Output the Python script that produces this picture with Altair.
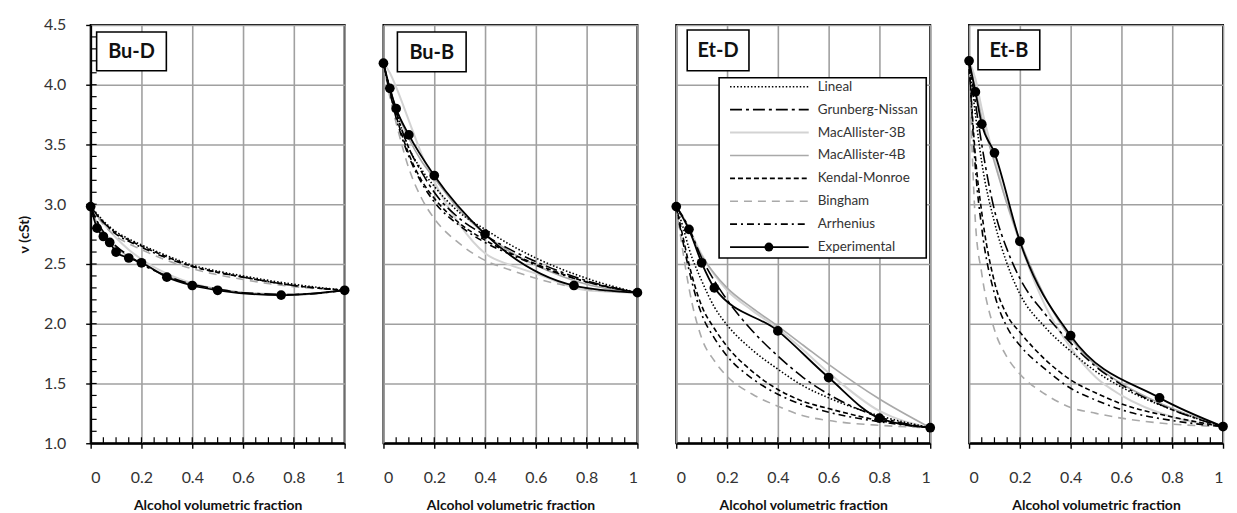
import altair as alt
import pandas as pd

FONT = "Lato"

# ---------------- data ----------------
model_x = [0, 0.025, 0.05, 0.1, 0.15, 0.2, 0.3, 0.4, 0.5, 0.6, 0.8, 1.0]

# Bu-D
bud_exp_x = [0, 0.025, 0.05, 0.075, 0.1, 0.15, 0.2, 0.3, 0.4, 0.5, 0.75, 1.0]
bud_exp_y = [2.98, 2.80, 2.73, 2.68, 2.60, 2.55, 2.51, 2.39, 2.32, 2.28, 2.24, 2.28]
bud_lineal = [2.98, 2.92, 2.86, 2.77, 2.71, 2.66, 2.57, 2.49, 2.44, 2.40, 2.33, 2.28]
bud_grunberg = [2.98, 2.86, 2.77, 2.65, 2.57, 2.50, 2.40, 2.33, 2.29, 2.26, 2.245, 2.28]
bud_mac3b = [2.98, 2.91, 2.84, 2.72, 2.62, 2.54, 2.42, 2.34, 2.29, 2.26, 2.245, 2.28]
bud_mac4b = [2.98, 2.84, 2.75, 2.64, 2.56, 2.51, 2.40, 2.33, 2.29, 2.26, 2.24, 2.28]
bud_kendal = [2.98, 2.91, 2.85, 2.76, 2.70, 2.65, 2.56, 2.48, 2.43, 2.39, 2.32, 2.28]
bud_bingham = [2.98, 2.90, 2.83, 2.73, 2.67, 2.62, 2.53, 2.46, 2.41, 2.37, 2.31, 2.28]
bud_arrhenius = [2.98, 2.91, 2.85, 2.75, 2.69, 2.64, 2.55, 2.48, 2.43, 2.39, 2.32, 2.28]

# Bu-B
bub_exp_x = [0, 0.025, 0.05, 0.1, 0.2, 0.4, 0.75, 1.0]
bub_exp_y = [4.18, 3.97, 3.80, 3.58, 3.24, 2.75, 2.32, 2.26]
bub_lineal = [4.18, 3.97, 3.78, 3.47, 3.29, 3.15, 2.93, 2.79, 2.66, 2.55, 2.38, 2.26]
bub_grunberg = [4.18, 3.96, 3.77, 3.47, 3.27, 3.10, 2.88, 2.74, 2.62, 2.52, 2.36, 2.26]
bub_mac3b = [4.18, 4.10, 3.98, 3.70, 3.42, 3.19, 2.83, 2.59, 2.49, 2.42, 2.28, 2.26]
bub_mac4b = [4.18, 3.97, 3.80, 3.55, 3.36, 3.22, 2.95, 2.75, 2.60, 2.49, 2.33, 2.26]
bub_kendal = [4.18, 3.95, 3.74, 3.42, 3.20, 3.05, 2.84, 2.70, 2.59, 2.50, 2.35, 2.26]
bub_bingham = [4.18, 3.90, 3.68, 3.30, 3.05, 2.88, 2.67, 2.53, 2.45, 2.38, 2.29, 2.26]
bub_arrhenius = [4.18, 3.94, 3.72, 3.40, 3.18, 3.02, 2.82, 2.68, 2.58, 2.49, 2.35, 2.26]

# Et-D
etd_exp_x = [0, 0.05, 0.1, 0.15, 0.4, 0.6, 0.8, 1.0]
etd_exp_y = [2.98, 2.79, 2.51, 2.30, 1.94, 1.55, 1.21, 1.13]
etd_lineal = [2.98, 2.82, 2.63, 2.36, 2.14, 1.99, 1.78, 1.62, 1.48, 1.38, 1.23, 1.13]
etd_grunberg = [2.98, 2.90, 2.80, 2.55, 2.36, 2.20, 1.94, 1.73, 1.55, 1.41, 1.22, 1.13]
etd_mac3b = [2.98, 2.90, 2.80, 2.58, 2.41, 2.28, 2.11, 1.96, 1.78, 1.59, 1.27, 1.13]
etd_mac4b = [2.98, 2.89, 2.78, 2.57, 2.42, 2.30, 2.13, 1.98, 1.82, 1.66, 1.37, 1.13]
etd_kendal = [2.98, 2.74, 2.50, 2.15, 1.96, 1.81, 1.60, 1.45, 1.35, 1.29, 1.19, 1.13]
etd_bingham = [2.98, 2.62, 2.30, 1.88, 1.69, 1.56, 1.41, 1.31, 1.23, 1.19, 1.15, 1.13]
etd_arrhenius = [2.98, 2.70, 2.45, 2.08, 1.88, 1.73, 1.54, 1.41, 1.32, 1.26, 1.18, 1.13]

# Et-B
etb_exp_x = [0, 0.025, 0.05, 0.1, 0.2, 0.4, 0.75, 1.0]
etb_exp_y = [4.20, 3.94, 3.67, 3.43, 2.69, 1.90, 1.38, 1.14]
etb_lineal = [4.20, 3.75, 3.35, 2.85, 2.50, 2.25, 1.97, 1.77, 1.60, 1.47, 1.28, 1.14]
etb_grunberg = [4.20, 3.85, 3.50, 2.95, 2.62, 2.38, 2.08, 1.84, 1.64, 1.49, 1.28, 1.14]
etb_mac3b = [4.20, 4.05, 3.80, 3.38, 3.00, 2.68, 2.15, 1.80, 1.55, 1.40, 1.22, 1.14]
etb_mac4b = [4.20, 3.97, 3.72, 3.35, 3.00, 2.70, 2.22, 1.88, 1.65, 1.50, 1.29, 1.14]
etb_kendal = [4.20, 3.40, 2.93, 2.35, 2.07, 1.93, 1.70, 1.53, 1.42, 1.33, 1.22, 1.14]
etb_bingham = [4.20, 2.85, 2.42, 1.95, 1.72, 1.58, 1.41, 1.30, 1.25, 1.21, 1.16, 1.14]
etb_arrhenius = [4.20, 3.30, 2.80, 2.25, 1.97, 1.82, 1.62, 1.46, 1.36, 1.28, 1.19, 1.14]

panel_names = ["Bu-D", "Bu-B", "Et-D", "Et-B"]
model_names = ["Lineal", "Grunberg-Nissan", "MacAllister-3B", "MacAllister-4B",
               "Kendal-Monroe", "Bingham", "Arrhenius"]

x_major = [0, 0.2, 0.4, 0.6, 0.8, 1.0]
x_minor = [round(0.05 * i, 2) for i in range(1, 20)]
y_major = [1.0, 1.5, 2.0, 2.5, 3.0, 3.5, 4.0, 4.5]
y_minor = [round(1.0 + 0.1 * i, 1) for i in range(1, 35)]

# ---------------- styles ----------------
styles = {
    "Lineal": dict(color="#000000", strokeDash=[1.5, 2], strokeWidth=1.6),
    "Grunberg-Nissan": dict(color="#000000", strokeDash=[12, 4, 3, 4], strokeWidth=1.6),
    "MacAllister-3B": dict(color="#d3d3d3", strokeWidth=2),
    "MacAllister-4B": dict(color="#a9a9a9", strokeWidth=1.6),
    "Kendal-Monroe": dict(color="#000000", strokeDash=[5, 3], strokeWidth=1.6),
    "Bingham": dict(color="#a9a9a9", strokeDash=[8, 6], strokeWidth=1.6),
    "Arrhenius": dict(color="#000000", strokeDash=[7, 4, 2, 4], strokeWidth=1.6),
}
draw_order = ["MacAllister-3B", "MacAllister-4B", "Bingham", "Lineal",
              "Kendal-Monroe", "Arrhenius", "Grunberg-Nissan"]

panel_models = {
    "Bu-D": [bud_lineal, bud_grunberg, bud_mac3b, bud_mac4b, bud_kendal, bud_bingham, bud_arrhenius],
    "Bu-B": [bub_lineal, bub_grunberg, bub_mac3b, bub_mac4b, bub_kendal, bub_bingham, bub_arrhenius],
    "Et-D": [etd_lineal, etd_grunberg, etd_mac3b, etd_mac4b, etd_kendal, etd_bingham, etd_arrhenius],
    "Et-B": [etb_lineal, etb_grunberg, etb_mac3b, etb_mac4b, etb_kendal, etb_bingham, etb_arrhenius],
}
panel_exp = {
    "Bu-D": (bud_exp_x, bud_exp_y),
    "Bu-B": (bub_exp_x, bub_exp_y),
    "Et-D": (etd_exp_x, etd_exp_y),
    "Et-B": (etb_exp_x, etb_exp_y),
}
label_boxes = {  # x, x2, y, y2 in pixels within the plot
    "Bu-D": (6, 76, 7, 46),
    "Bu-B": (14, 83, 7, 47),
    "Et-D": (11, 73, 5, 46),
    "Et-B": (9, 71, 5, 45),
}

W, H = 255, 420
one = pd.DataFrame({"d": [0]})


def xenc(show=True):
    return alt.X("x:Q", scale=alt.Scale(domain=[0, 1], nice=False, zero=False),
                 axis=alt.Axis(values=x_major, format="~g", title="Alcohol volumetric fraction",
                               grid=True, tickSize=5, labelPadding=21, titlePadding=14))


def yenc(show):
    if show:
        ax = alt.Axis(values=y_major, format=".1f", title="ν (cSt)", grid=True,
                      tickSize=5, labelPadding=20, titlePadding=12)
    else:
        ax = alt.Axis(values=y_major, labels=False, ticks=False, domain=False, title=None, grid=True)
    return alt.Y("y:Q", scale=alt.Scale(domain=[1, 4.5], nice=False, zero=False), axis=ax)


def make_panel(name, show_y, show_legend):
    layers = []
    vals = dict(zip(model_names, panel_models[name]))
    for m in draw_order:
        df = pd.DataFrame({"x": model_x, "y": vals[m]})
        layers.append(alt.Chart(df).mark_line(interpolate="monotone", **styles[m])
                      .encode(x=xenc(), y=yenc(show_y)))
    ex, ey = panel_exp[name]
    edf = pd.DataFrame({"x": ex, "y": ey})
    layers.append(alt.Chart(edf).mark_line(interpolate="monotone", color="black", strokeWidth=1.8)
                  .encode(x=xenc(), y=yenc(show_y)))
    layers.append(alt.Chart(edf).mark_circle(color="black", size=95, opacity=1)
                  .encode(x=xenc(), y=yenc(show_y)))
    # minor x ticks (inward)
    mdf = pd.DataFrame({"x": x_minor})
    layers.append(alt.Chart(mdf).mark_rule(color="black", strokeWidth=1.2)
                  .encode(x=xenc(), y=alt.value(H), y2=alt.value(H - 6)))
    if show_y:
        ydf = pd.DataFrame({"y": y_minor})
        layers.append(alt.Chart(ydf).mark_rule(color="black", strokeWidth=1.2)
                      .encode(y=yenc(show_y), x=alt.value(0), x2=alt.value(6)))
    # label box
    bx, bx2, by, by2 = label_boxes[name]
    layers.append(alt.Chart(one).mark_rect(fill="white", stroke="black", strokeWidth=1.6)
                  .encode(x=alt.value(bx), x2=alt.value(bx2), y=alt.value(by), y2=alt.value(by2)))
    layers.append(alt.Chart(one).mark_text(font=FONT, fontSize=20, fontWeight="bold", color="#111",
                                           align="center", baseline="middle")
                  .encode(x=alt.value((bx + bx2) / 2), y=alt.value((by + by2) / 2 + 1),
                          text=alt.value(name)))
    if show_legend:
        lx, lx2, ly, ly2 = 43, 251, 53, 234
        layers.append(alt.Chart(one).mark_rect(fill="white", stroke="black", strokeWidth=1.6)
                      .encode(x=alt.value(lx), x2=alt.value(lx2), y=alt.value(ly), y2=alt.value(ly2)))
        entries = model_names + ["Experimental"]
        for i, m in enumerate(entries):
            yy = 62 + i * 23
            if m == "Experimental":
                st = dict(color="black", strokeWidth=1.8)
            else:
                st = styles[m]
            layers.append(alt.Chart(one).mark_rule(**st)
                          .encode(x=alt.value(54), x2=alt.value(133), y=alt.value(yy)))
            if m == "Experimental":
                layers.append(alt.Chart(one).mark_circle(color="black", size=80, opacity=1)
                              .encode(x=alt.value(93), y=alt.value(yy)))
            layers.append(alt.Chart(one).mark_text(font=FONT, fontSize=13.5, color="#333",
                                                   align="left", baseline="middle")
                          .encode(x=alt.value(142), y=alt.value(yy), text=alt.value(m)))
    return alt.layer(*layers).properties(width=W, height=H)


panels = [make_panel(n, i == 0, n == "Et-D") for i, n in enumerate(panel_names)]

chart = alt.hconcat(*panels, spacing=39, bounds="flush").properties(
    padding={"left": 8, "top": 7, "right": 0, "bottom": 0}
).configure_view(
    stroke="black", strokeWidth=2
).configure_axis(
    labelFont=FONT, titleFont=FONT, labelFontSize=16, labelColor="#333",
    titleFontSize=14, titleFontWeight="bold", titleColor="#111",
    gridColor="#a0a0a0", gridWidth=1.6, domainColor="black", domainWidth=2,
    tickColor="black", tickWidth=1.4
)

chart.save("out.html", embed_options={"renderer": "svg", "actions": False})
